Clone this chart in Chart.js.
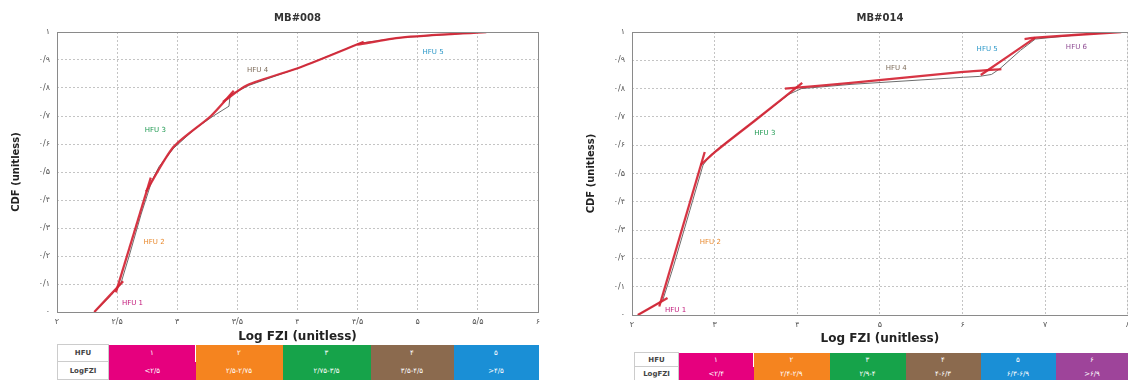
<!DOCTYPE html>
<html>
<head>
<meta charset="utf-8">
<script src="https://cdn.jsdelivr.net/npm/chart.js@4/dist/chart.umd.min.js"></script>
<style>
  html, body { margin: 0; padding: 0; background: #fff; }
  body { width: 1128px; height: 380px; overflow: hidden; position: relative; font-family: "DejaVu Sans", Arial, sans-serif; }
  canvas { position: absolute; }
  #c1 { left: 0; top: 0; }
  #c2 { left: 575px; top: 0; }
  table.hfu { position: absolute; border-collapse: collapse; table-layout: fixed; font-size: 7px; }
  table.hfu td { padding: 0; text-align: center; color: #fff; overflow: hidden; white-space: nowrap; }
  table.hfu td.head { color: #444; font-weight: bold; background: #fff; border: 1px solid #ccc; }
  #t1 { left: 57px; top: 344px; }
  #t2 { left: 634px; top: 352px; }
</style>
</head>
<body>
<canvas id="c1" width="560" height="344"></canvas>
<canvas id="c2" width="560" height="346"></canvas>
<table class="hfu" id="t1"></table>
<table class="hfu" id="t2"></table>
<script>
// ---------- MB#008 ----------
const titleA = 'MB#008';
// fitted pieces, one per HFU (x = Log FZI, y = CDF)
const a_hfu1_x = [2.31, 2.55];
const a_hfu1_y = [0.00, 0.11];
const a_hfu2_x = [2.49, 2.78];
const a_hfu2_y = [0.07, 0.48];
const a_hfu3_x = [2.74, 2.97, 3.28, 3.47];
const a_hfu3_y = [0.43, 0.59, 0.70, 0.79];
const a_hfu4_x = [3.38, 3.58, 4.03, 4.55];
const a_hfu4_y = [0.75, 0.81, 0.875, 0.965];
const a_hfu5_x = [4.50, 4.86, 5.57];
const a_hfu5_y = [0.955, 0.98, 1.00];
// measured cumulative curve
const a_data_x = [2.31, 2.45, 2.53, 2.60, 2.70, 2.79, 2.85, 2.97, 3.15, 3.30, 3.43, 3.44, 3.60, 4.03, 4.52, 4.86, 5.57];
const a_data_y = [0.00, 0.06, 0.10, 0.20, 0.35, 0.47, 0.52, 0.585, 0.655, 0.70, 0.735, 0.775, 0.81, 0.875, 0.96, 0.98, 1.00];
const a_labels = ['HFU 1', 'HFU 2', 'HFU 3', 'HFU 4', 'HFU 5'];
const a_label_x = [2.54, 2.72, 2.73, 3.58, 5.04];
const a_label_y = [0.032, 0.25, 0.65, 0.864, 0.929];
const a_table_hfu = ['۱', '۲', '۳', '۴', '۵'];
const a_table_fzi = ['<۲/۵', '۲/۵-۲/۷۵', '۲/۷۵-۳/۵', '۳/۵-۴/۵', '>۴/۵'];

// ---------- MB#014 ----------
const titleB = 'MB#014';
const b_hfu1_x = [2.07, 2.43];
const b_hfu1_y = [0.00, 0.06];
const b_hfu2_x = [2.33, 2.88];
const b_hfu2_y = [0.03, 0.576];
const b_hfu3_x = [2.83, 3.02, 3.50, 4.06];
const b_hfu3_y = [0.53, 0.58, 0.69, 0.82];
const b_hfu4_x = [3.85, 4.65, 6.01, 6.47];
const b_hfu4_y = [0.80, 0.82, 0.859, 0.869];
const b_hfu5_x = [6.22, 6.88];
const b_hfu5_y = [0.848, 0.98];
const b_hfu6_x = [6.75, 6.88, 7.92];
const b_hfu6_y = [0.975, 0.98, 1.00];
const b_data_x = [2.07, 2.25, 2.37, 2.50, 2.70, 2.86, 2.95, 3.10, 3.50, 3.90, 4.05, 4.65, 6.01, 6.20, 6.35, 6.45, 6.70, 6.88, 7.40, 7.92];
const b_data_y = [0.00, 0.03, 0.05, 0.17, 0.37, 0.53, 0.565, 0.60, 0.69, 0.78, 0.80, 0.815, 0.84, 0.843, 0.85, 0.87, 0.935, 0.975, 0.99, 1.00];
const b_labels = ['HFU 1', 'HFU 2', 'HFU 3', 'HFU 4', 'HFU 5', 'HFU 6'];
const b_label_x = [2.40, 2.82, 3.48, 5.07, 6.17, 7.25];
const b_label_y = [0.018, 0.258, 0.643, 0.873, 0.94, 0.947];
const b_table_hfu = ['۱', '۲', '۳', '۴', '۵', '۶'];
const b_table_fzi = ['<۲/۴', '۲/۴-۲/۹', '۲/۹-۴', '۴-۶/۳', '۶/۳-۶/۹', '>۶/۹'];

// HFU palette
const hfuColors = ['#e6007e', '#f5841f', '#16a34a', '#8b6a4e', '#1a8fd6', '#9e449a'];
const labelColors = ['#c2187a', '#e8892e', '#1f9a52', '#7c6a58', '#2a97c8', '#8e4a92'];

const PERSIAN = '۰۱۲۳۴۵۶۷۸۹';
function fa(v) {
  const s = String(Math.round(v * 100) / 100);
  return s.replace(/[0-9]/g, d => PERSIAN[d]).replace('.', '/');
}
function pts(xs, ys) { return xs.map((x, i) => ({ x: x, y: ys[i] })); }

// frame, title and in-plot HFU captions
const decor = {
  id: 'decor',
  afterDraw(chart, args, opts) {
    const { ctx, chartArea: a, scales } = chart;
    ctx.save();
    ctx.strokeStyle = '#8a8a8a';
    ctx.lineWidth = 1;
    ctx.strokeRect(a.left + 0.5, a.top + 0.5, a.right - a.left, a.bottom - a.top);
    ctx.fillStyle = '#333';
    ctx.font = 'bold 10px "DejaVu Sans", Arial, sans-serif';
    ctx.textAlign = 'center';
    ctx.textBaseline = 'middle';
    ctx.fillText(opts.title, (a.left + a.right) / 2, 18);
    ctx.font = '7px "DejaVu Sans", Arial, sans-serif';
    ctx.textAlign = 'left';
    opts.labels.forEach((t, i) => {
      ctx.fillStyle = labelColors[i];
      ctx.fillText(t, scales.x.getPixelForValue(opts.lx[i]), scales.y.getPixelForValue(opts.ly[i]));
    });
    ctx.restore();
  }
};

function makeChart(id, cfg) {
  const datasets = [{
    data: pts(cfg.dataX, cfg.dataY), showLine: true, borderColor: '#6d6d6d', borderWidth: 1,
    pointRadius: 0, fill: false, order: 1
  }];
  cfg.segments.forEach(s => datasets.push({
    data: pts(s[0], s[1]), showLine: true, borderColor: 'rgba(212,36,52,0.92)', borderWidth: 2.3,
    pointRadius: 0, fill: false, tension: 0.25, order: 0
  }));
  const tickFont = { size: 8, family: '"DejaVu Sans", Arial, sans-serif' };
  return new Chart(document.getElementById(id), {
    type: 'scatter',
    data: { datasets },
    options: {
      responsive: false, animation: false,
      layout: { padding: { top: 32, right: cfg.padRight, left: 10, bottom: 0 } },
      plugins: {
        legend: { display: false }, tooltip: { enabled: false },
        decor: { title: cfg.title, labels: cfg.labels, lx: cfg.lx, ly: cfg.ly }
      },
      scales: {
        x: {
          type: 'linear', min: cfg.xmin, max: cfg.xmax,
          ticks: { stepSize: cfg.xstep, callback: v => fa(v), color: '#555', font: tickFont, padding: 5, maxRotation: 0 },
          grid: { color: '#c4c4c4', drawTicks: false },
          border: { display: false, dash: [2, 2] },
          title: { display: true, text: 'Log FZI (unitless)', color: '#222', font: { size: 12, weight: 'bold', family: '"DejaVu Sans", Arial, sans-serif' }, padding: { top: 0, bottom: 0 } },
          afterFit(s) { s.height = cfg.xh; }
        },
        y: {
          type: 'linear', min: 0, max: 1,
          ticks: { stepSize: 0.1, callback: v => fa(v), color: '#555', font: tickFont, padding: 7 },
          grid: { color: '#c4c4c4', drawTicks: false },
          border: { display: false, dash: [2, 2] },
          title: { display: true, text: 'CDF (unitless)', color: '#222', font: { size: 10, weight: 'bold', family: '"DejaVu Sans", Arial, sans-serif' }, padding: { top: 0, bottom: 0 } },
          afterFit(s) { s.width = 47; }
        }
      }
    },
    plugins: [decor]
  });
}

makeChart('c1', {
  title: titleA, xmin: 2, xmax: 6, xstep: 0.5, padRight: 22, xh: 32,
  dataX: a_data_x, dataY: a_data_y,
  segments: [[a_hfu1_x, a_hfu1_y], [a_hfu2_x, a_hfu2_y], [a_hfu3_x, a_hfu3_y], [a_hfu4_x, a_hfu4_y], [a_hfu5_x, a_hfu5_y]],
  labels: a_labels, lx: a_label_x, ly: a_label_y
});
makeChart('c2', {
  title: titleB, xmin: 2, xmax: 8, xstep: 1, padRight: 5, xh: 31,
  dataX: b_data_x, dataY: b_data_y,
  segments: [[b_hfu1_x, b_hfu1_y], [b_hfu2_x, b_hfu2_y], [b_hfu3_x, b_hfu3_y], [b_hfu4_x, b_hfu4_y], [b_hfu5_x, b_hfu5_y], [b_hfu6_x, b_hfu6_y]],
  labels: b_labels, lx: b_label_x, ly: b_label_y
});

// HFU / LogFZI class tables under each plot
function buildTable(id, hfu, fzi, headW, cellW, rowH) {
  const t = document.getElementById(id);
  const cg = document.createElement('colgroup');
  [headW].concat(cellW).forEach(w => { const c = document.createElement('col'); c.style.width = w + 'px'; cg.appendChild(c); });
  t.appendChild(cg);
  [['HFU', hfu], ['LogFZI', fzi]].forEach((row, r) => {
    const tr = document.createElement('tr');
    tr.style.height = rowH[r] + 'px';
    const th = document.createElement('td');
    th.className = 'head'; th.textContent = row[0];
    tr.appendChild(th);
    row[1].forEach((txt, i) => {
      const td = document.createElement('td');
      td.textContent = txt;
      td.style.background = hfuColors[i];
      tr.appendChild(td);
    });
    t.appendChild(tr);
  });
  t.style.width = (headW + cellW.reduce((p, q) => p + q, 0)) + 'px';
}
buildTable('t1', a_table_hfu, a_table_fzi, 51, [87, 87, 88, 83, 85], [17, 18]);
buildTable('t2', b_table_hfu, b_table_fzi, 44, [75, 76, 76, 75, 75, 73], [14, 14]);
</script>
</body>
</html>
